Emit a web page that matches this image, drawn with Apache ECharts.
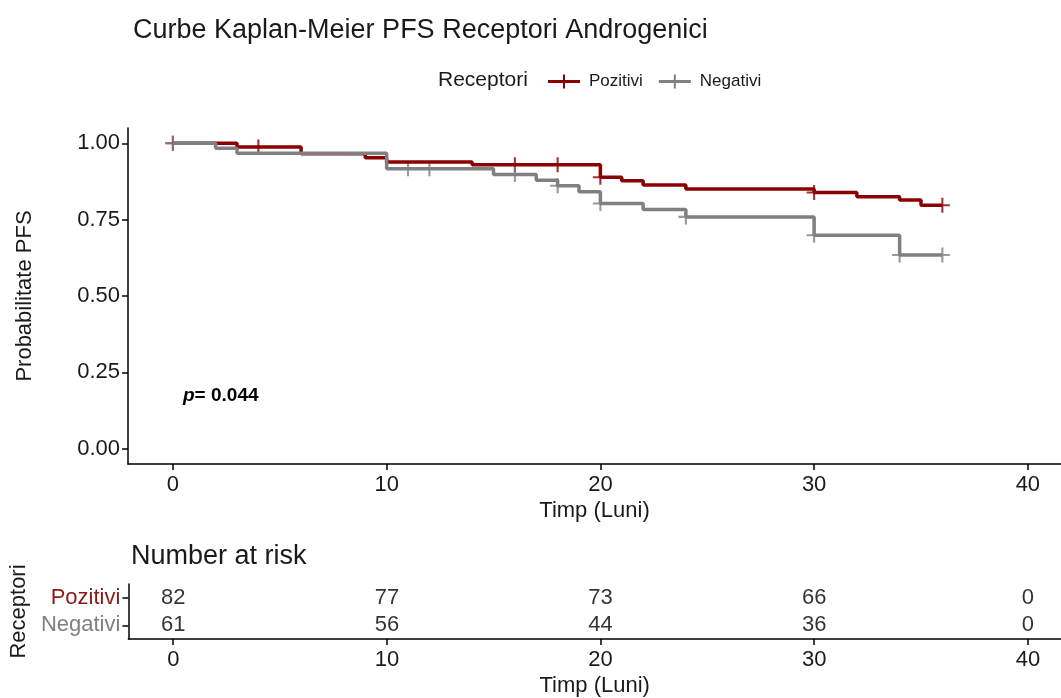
<!DOCTYPE html>
<html>
<head>
<meta charset="utf-8">
<script src="https://cdn.jsdelivr.net/npm/echarts@6/dist/echarts.min.js"></script>
<style>
html,body{margin:0;padding:0;background:#fff;}
#chart{width:1061px;height:698px;}
</style>
</head>
<body>
<div id="chart"></div>
<script>
// ---- data ----
var groups = ['Pozitivi', 'Negativi'];
var posTimes = [0, 3, 6, 9, 10, 14, 20, 21, 22, 24, 30, 32, 34, 35, 36];
var posSurv  = [1.0, 0.988, 0.966, 0.953, 0.939, 0.930, 0.889, 0.877, 0.863, 0.850, 0.839, 0.825, 0.814, 0.797, 0.797];
var negTimes = [0, 2, 3, 10, 15, 17, 18, 19, 20, 22, 24, 30, 34, 36];
var negSurv  = [1.0, 0.984, 0.967, 0.917, 0.898, 0.879, 0.861, 0.841, 0.803, 0.783, 0.759, 0.699, 0.634, 0.634];
var posCensor = [0, 4, 16, 18, 20, 30, 36];
var negCensor = [0, 11, 12, 16, 18, 20, 24, 30, 34, 36];
var riskTimes = [0, 10, 20, 30, 40];
var posRisk = [82, 77, 73, 66, 0];
var negRisk = [61, 56, 44, 36, 0];
var xTicks = [0, 10, 20, 30, 40];
var yTicks = [0, 0.25, 0.5, 0.75, 1];
var pValue = '0.044';

var RED = '#8B0000', GRAY = '#808080';
var FONT = 'Liberation Sans, Arial, sans-serif';
var PLUS = 'path://M43,0 H57 V43 H100 V57 H57 V100 H43 V57 H0 V43 H43 Z';
var LEGICON = 'path://M0,5.5 H32 V8.5 H0 Z M15,0 H17 V14 H15 Z';

function survAt(times, surv, t) {
  var s = surv[0];
  for (var i = 0; i < times.length; i++) if (times[i] <= t) s = surv[i];
  return s;
}
function zip(a, b) { return a.map(function (v, i) { return [v, b[i]]; }); }

var chart = echarts.init(document.getElementById('chart'));
var axisLine = { show: true, onZero: false, lineStyle: { color: '#000', width: 1.5 } };
var tick = { show: true, length: 6, lineStyle: { color: '#000', width: 1.5 } };
var lblStyle = { color: '#1a1a1a', fontSize: 22, fontFamily: FONT };

chart.setOption({
  animation: false,
  title: [
    { text: 'Curbe Kaplan-Meier PFS Receptori Androgenici', left: 128, top: 12,
      textStyle: { fontSize: 27, fontWeight: 'normal', color: '#1a1a1a', fontFamily: FONT } },
    { text: 'Number at risk', left: 126, top: 538,
      textStyle: { fontSize: 27, fontWeight: 'normal', color: '#1a1a1a', fontFamily: FONT } }
  ],
  legend: {
    left: 543, top: 68, itemWidth: 32, itemHeight: 14, itemGap: 16,
    data: [{ name: 'Pozitivi', icon: LEGICON, itemStyle: { color: RED } },
           { name: 'Negativi', icon: LEGICON, itemStyle: { color: GRAY } }],
    textStyle: { fontSize: 17, color: '#1a1a1a', fontFamily: FONT, padding: [0, 0, 0, 4] }
  },
  graphic: [
    { type: 'text', left: 438, top: 70,
      style: { text: 'Receptori', fontSize: 21, fill: '#1a1a1a', fontFamily: FONT } },
    { type: 'text', left: 183, top: 386,
      style: { text: '{i|p}{b|= ' + pValue + '}', fontFamily: FONT,
        rich: { i: { fontStyle: 'italic', fontWeight: 'bold', fontSize: 19, fill: '#000', fontFamily: FONT },
                b: { fontWeight: 'bold', fontSize: 19, fill: '#000', fontFamily: FONT } } } }
  ],
  grid: [
    { left: 128, right: 0, top: 128, height: 336 },
    { left: 128, right: 0, top: 584, height: 56 }
  ],
  xAxis: [
    { type: 'value', gridIndex: 0, min: -2.1, max: 41.55,
      axisLine: axisLine, axisTick: Object.assign({ customValues: xTicks }, tick),
      axisLabel: Object.assign({ customValues: xTicks, margin: 10 }, lblStyle),
      splitLine: { show: false },
      name: 'Timp (Luni)', nameLocation: 'middle', nameGap: 36,
      nameTextStyle: lblStyle },
    { type: 'value', gridIndex: 1, min: -2.1, max: 41.55,
      axisLine: axisLine, axisTick: Object.assign({ customValues: xTicks }, tick),
      axisLabel: Object.assign({ customValues: xTicks, margin: 10 }, lblStyle),
      splitLine: { show: false },
      name: 'Timp (Luni)', nameLocation: 'middle', nameGap: 36,
      nameTextStyle: lblStyle }
  ],
  yAxis: [
    { type: 'value', gridIndex: 0, min: -0.05, max: 1.05,
      axisLine: axisLine, axisTick: Object.assign({ customValues: yTicks }, tick),
      axisLabel: Object.assign({ customValues: yTicks, margin: 8,
        formatter: function (v) { return v.toFixed(2); } }, lblStyle),
      splitLine: { show: false },
      name: 'Probabilitate PFS', nameLocation: 'middle', nameGap: 92,
      nameTextStyle: lblStyle },
    { type: 'category', gridIndex: 1, data: groups.slice().reverse(),
      axisLine: axisLine, axisTick: Object.assign({ alignWithLabel: true, interval: 0 }, tick),
      axisLabel: { margin: 8, fontSize: 22, fontFamily: FONT, interval: 0,
        formatter: function (v) { return v === 'Pozitivi' ? '{p|' + v + '}' : '{n|' + v + '}'; },
        rich: { p: { color: '#8B1A1A', fontSize: 22, fontFamily: FONT },
                n: { color: GRAY, fontSize: 22, fontFamily: FONT } } },
      name: 'Receptori', nameLocation: 'middle', nameGap: 98,
      nameTextStyle: lblStyle }
  ],
  series: [
    { name: 'Pozitivi', type: 'line', xAxisIndex: 0, yAxisIndex: 0, step: 'end',
      data: zip(posTimes, posSurv), showSymbol: false, symbol: 'none',
      lineStyle: { color: RED, width: 3.5 }, itemStyle: { color: RED } },
    { name: 'Pozitivi', type: 'scatter', xAxisIndex: 0, yAxisIndex: 0, symbol: PLUS, symbolSize: 15,
      data: posCensor.map(function (t) { return [t, survAt(posTimes, posSurv, t)]; }),
      itemStyle: { color: RED } },
    { name: 'Negativi', type: 'line', xAxisIndex: 0, yAxisIndex: 0, step: 'end',
      data: zip(negTimes, negSurv), showSymbol: false, symbol: 'none',
      lineStyle: { color: GRAY, width: 3.5 }, itemStyle: { color: GRAY } },
    { name: 'Negativi', type: 'scatter', xAxisIndex: 0, yAxisIndex: 0, symbol: PLUS, symbolSize: 15,
      data: negCensor.map(function (t) { return [t, survAt(negTimes, negSurv, t)]; }),
      itemStyle: { color: GRAY } },
    { type: 'scatter', xAxisIndex: 1, yAxisIndex: 1, symbolSize: 0,
      data: riskTimes.map(function (t, i) { return [t, 'Pozitivi', posRisk[i]]; }),
      label: { show: true, position: 'inside', formatter: function (p) { return p.value[2]; },
        fontSize: 22, color: '#000', fontFamily: FONT } },
    { type: 'scatter', xAxisIndex: 1, yAxisIndex: 1, symbolSize: 0,
      data: riskTimes.map(function (t, i) { return [t, 'Negativi', negRisk[i]]; }),
      label: { show: true, position: 'inside', formatter: function (p) { return p.value[2]; },
        fontSize: 22, color: '#000', fontFamily: FONT } }
  ]
});
</script>
</body>
</html>
